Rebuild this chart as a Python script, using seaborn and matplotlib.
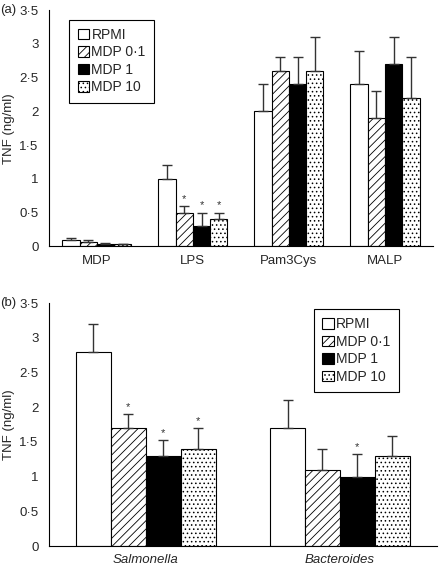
import numpy as np
import pandas as pd
import seaborn as sns
import matplotlib as mpl
import matplotlib.pyplot as plt
from matplotlib.ticker import FuncFormatter
from matplotlib.patches import Patch

sns.set_style("white")
plt.rcParams['font.family'] = ['Liberation Sans', 'DejaVu Sans']
plt.rcParams['hatch.linewidth'] = 0.6

treatments = ["RPMI", "MDP 0·1", "MDP 1", "MDP 10"]

# panel (a)
stimuli_a = ["MDP", "LPS", "Pam3Cys", "MALP"]
mean_a = {
    "RPMI":    [0.09, 1.0, 2.0, 2.4],
    "MDP 0·1": [0.07, 0.5, 2.6, 1.9],
    "MDP 1":   [0.04, 0.3, 2.4, 2.7],
    "MDP 10":  [0.03, 0.4, 2.6, 2.2],
}
sem_a = {
    "RPMI":    [0.03, 0.2, 0.4, 0.5],
    "MDP 0·1": [0.02, 0.1, 0.2, 0.4],
    "MDP 1":   [0.015, 0.2, 0.4, 0.4],
    "MDP 10":  [0.01, 0.1, 0.5, 0.6],
}
star_a = {
    "RPMI":    [0, 0, 0, 0],
    "MDP 0·1": [0, 1, 0, 0],
    "MDP 1":   [0, 1, 0, 0],
    "MDP 10":  [0, 1, 0, 0],
}

# panel (b)
stimuli_b = ["Salmonella", "Bacteroides"]
mean_b = {
    "RPMI":    [2.8, 1.7],
    "MDP 0·1": [1.7, 1.1],
    "MDP 1":   [1.3, 1.0],
    "MDP 10":  [1.4, 1.3],
}
sem_b = {
    "RPMI":    [0.4, 0.4],
    "MDP 0·1": [0.2, 0.3],
    "MDP 1":   [0.23, 0.32],
    "MDP 10":  [0.3, 0.28],
}
star_b = {
    "RPMI":    [0, 0],
    "MDP 0·1": [1, 0],
    "MDP 1":   [1, 1],
    "MDP 10":  [1, 0],
}

colors = ["white", "white", "black", "white"]
hatches = [None, "////", None, "...."]


def to_long(stimuli, means):
    rows = []
    for t in treatments:
        for s, v in zip(stimuli, means[t]):
            rows.append({"stimulus": s, "treatment": t, "tnf": v})
    return pd.DataFrame(rows)


def dot_fmt(v, pos):
    s = f"{v:g}"
    return s.replace(".", "·")


def draw_panel(ax, stimuli, means, sems, stars, legend_loc, italic=False):
    df = to_long(stimuli, means)
    sns.barplot(df, x="stimulus", y="tnf", hue="treatment", order=stimuli,
                hue_order=treatments, palette=colors, width=0.72, gap=0,
                errorbar=None, edgecolor="black", linewidth=0.8, legend=False,
                ax=ax)
    for cont, t, h in zip(ax.containers, treatments, hatches):
        for i, bar in enumerate(cont):
            if h:
                bar.set_hatch(h)
            x = bar.get_x() + bar.get_width() / 2
            top = bar.get_height()
            err = sems[t][i]
            ax.errorbar(x, top, yerr=[[0], [err]], fmt="none", ecolor="#333333",
                        elinewidth=1.0, capsize=3.5, capthick=1.0)
            if stars[t][i]:
                ax.text(x, top + err + 0.03, "*", ha="center", va="bottom",
                        fontsize=8, color="#333333")
    n = len(stimuli)
    ax.set_xlim(-0.5, n - 0.5)
    ax.set_ylim(0, 3.5)
    ax.set_yticks(np.arange(0, 3.51, 0.5))
    ax.yaxis.set_major_formatter(FuncFormatter(dot_fmt))
    ax.set_xticks(np.arange(-0.5, n, 1.0))
    ax.set_xticklabels([])
    ax.set_xticks(np.arange(n), minor=True)
    ax.set_xticklabels(stimuli, minor=True, fontsize=9.5,
                       style="italic" if italic else "normal")
    ax.tick_params(axis="x", which="minor", length=0, pad=6)
    ax.tick_params(axis="x", which="major", length=4, width=0.8, color="black")
    ax.tick_params(axis="y", length=4, width=0.8, color="black", labelsize=9.5)
    ax.set_xlabel("")
    ax.set_ylabel("TNF (ng/ml)", fontsize=9.5, labelpad=3)
    for sp in ["top", "right"]:
        ax.spines[sp].set_visible(False)
    for sp in ["left", "bottom"]:
        ax.spines[sp].set_color("black")
        ax.spines[sp].set_linewidth(0.8)
    handles = [Patch(facecolor=c, edgecolor="black", hatch=h, linewidth=0.8)
               for c, h in zip(colors, hatches)]
    leg = ax.legend(handles, treatments, loc=legend_loc, fontsize=10,
                    handlelength=0.8, handleheight=0.8, handletextpad=0.2,
                    labelspacing=0.25, fancybox=False, framealpha=1,
                    borderpad=0.6, edgecolor="black")
    leg.get_frame().set_linewidth(0.8)
    return leg


fig = plt.figure(figsize=(4.4, 5.7), dpi=100)
ax_a = fig.add_axes([0.111, 0.568, 0.873, 0.414])
ax_b = fig.add_axes([0.111, 0.042, 0.882, 0.426])

leg_a = draw_panel(ax_a, stimuli_a, mean_a, sem_a, star_a, "upper left")
leg_a.set_bbox_to_anchor((0.035, 0.99), transform=ax_a.transAxes)
leg_b = draw_panel(ax_b, stimuli_b, mean_b, sem_b, star_b, "upper right",
                   italic=True)
leg_b.set_bbox_to_anchor((0.92, 1.005), transform=ax_b.transAxes)

fig.text(0.0, 0.982, "(a)", fontsize=9.5, va="center")
fig.text(0.0, 0.468, "(b)", fontsize=9.5, va="center")

fig.savefig("out.png", dpi=100, facecolor="white")
